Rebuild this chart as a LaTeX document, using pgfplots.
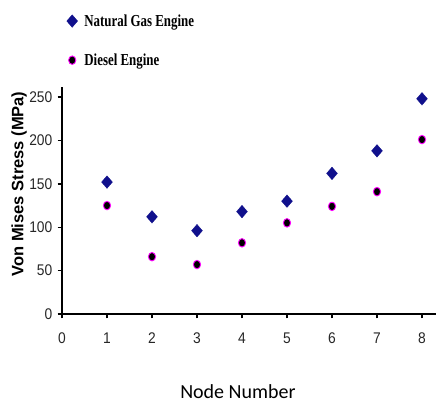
\documentclass[border=0pt]{standalone}
\usepackage{pgfplots}
\pgfplotsset{compat=1.18}
\usepackage{fontspec}
\setmainfont{Liberation Sans}
\newfontfamily\legfont{Liberation Serif}
\newfontfamily\carlito{Carlito}
\definecolor{navyd}{RGB}{16,16,140}
\definecolor{mag}{RGB}{255,0,255}
\begin{document}
\begin{tikzpicture}
\path[use as bounding box] (0,0) rectangle (437pt,403pt);
\begin{axis}[
  at={(62pt,89pt)}, anchor=south west,
  scale only axis, width=373.5pt, height=226.5pt,
  xmin=0, xmax=8.3, ymin=0, ymax=261,
  axis x line*=bottom, axis y line*=left,
  axis line style={line width=2.2pt, black},
  xtick={0,1,...,8}, ytick={0,50,...,250},
  tick align=outside, major tick length=4.5pt,
  every tick/.style={line width=1.4pt, black},
  /pgf/number format/assume math mode=true,
  tick label style={font=\fontsize{13.8}{15}\selectfont, inner sep=0pt, text=black!85},
  xticklabel={\scalebox{1}[1.12]{\pgfmathprintnumber{\tick}}},
  yticklabel={\scalebox{1}[1.12]{\pgfmathprintnumber{\tick}}},
  xticklabel style={yshift=-14pt},
  yticklabel style={xshift=-5pt},
  clip=false,
  ylabel={Von Mises Stress (MPa)},
  ylabel style={at={(axis description cs:-0.1146,0.574)}, anchor=center, font=\fontsize{16.5}{18}\selectfont\bfseries, inner sep=0pt},
  xlabel={Node Number},
  xlabel style={at={(axis description cs:0.471,-0.343)}, anchor=center, font=\carlito\fontsize{20}{23}\selectfont, inner sep=0pt},
  legend image code/.code={\path (-6pt,0pt) (6pt,0pt); \draw[#1] plot coordinates {(0pt,0pt)};},
  legend cell align=left,
  legend style={draw=none, fill=none, inner sep=0pt, outer sep=0pt,
    at={(axis description cs:0.0107,1.3223)}, anchor=north west,
    column sep=6pt, row sep=26pt,
    nodes={inner sep=0pt},
    font=\legfont\bfseries\fontsize{12.9}{14}\selectfont},
]
\addplot[only marks, mark=diamond*, mark size=6.3pt, mark options={xscale=1.15, fill=navyd, draw=navyd, line width=0.3pt}]
  coordinates {(1,152) (2,112) (3,96) (4,118) (5,130) (6,162) (7,188) (8,248)};
\addlegendentry{\scalebox{1}[1.3]{Natural Gas Engine}}
\addplot[only marks, mark=*, mark size=3.6pt, mark options={yscale=1.18, fill=black, draw=mag, line width=0.9pt}]
  coordinates {(1,125) (2,66) (3,57) (4,82) (5,105) (6,124) (7,141) (8,201)};
\addlegendentry{\scalebox{1}[1.3]{Diesel Engine}}
\end{axis}
\end{tikzpicture}
\end{document}
